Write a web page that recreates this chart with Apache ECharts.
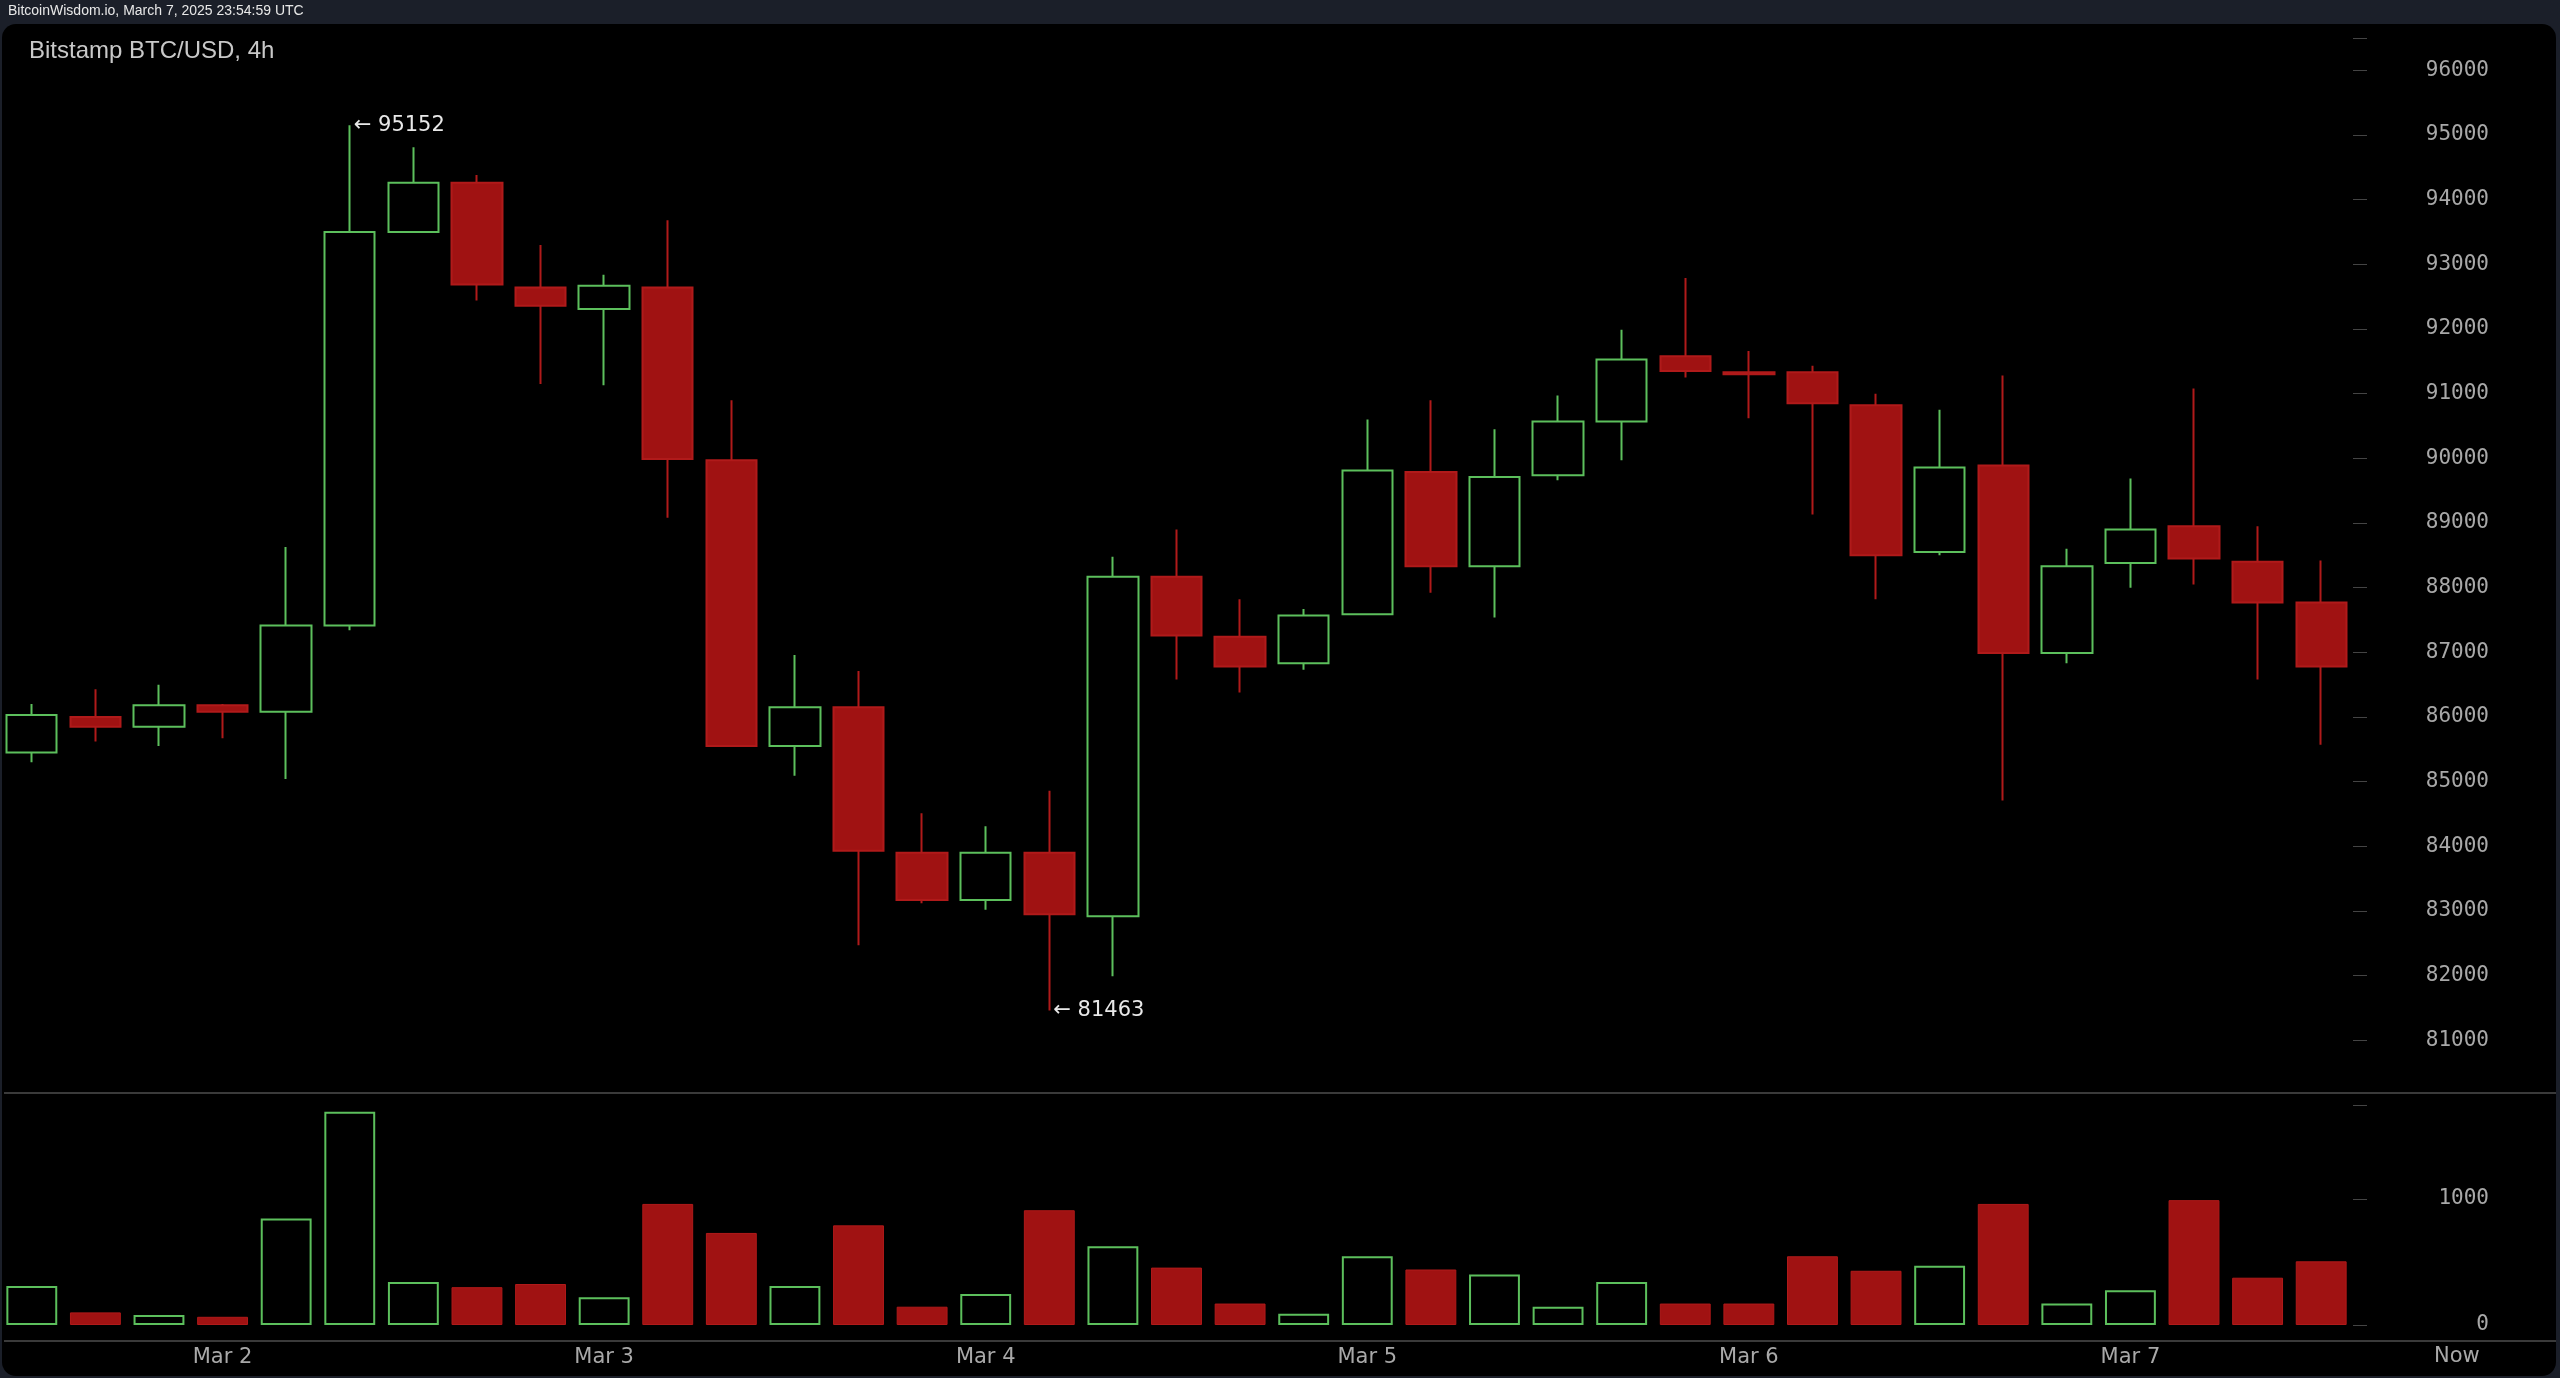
<!DOCTYPE html>
<html><head><meta charset="utf-8">
<script src="https://cdn.jsdelivr.net/npm/echarts@6/dist/echarts.min.js"></script>
<style>html,body{margin:0;padding:0;background:#1b1f29;}#c{width:2560px;height:1378px;}</style>
</head><body><div id="c"></div>
<script>
const times = [];
const days = ['Mar 1','Mar 2','Mar 3','Mar 4','Mar 5','Mar 6','Mar 7'];
for (let i = 0; i < 37; i++) { const k = i + 3; times.push(days[Math.floor(k/6)] + ' ' + String((k%6)*4).padStart(2,'0') + ':00'); }
// [open, close, low, high]
const open  = [85450,86000,85850,86180,86080,87415,93500,94260,92640,92310,92640,89970,85550,86150,83900,83170,83900,82920,88170,87240,86830,87590,89790,88330,89740,90570,91580,91330,91330,90820,88550,89890,86990,88380,88950,88400,87770];
const close = [86030,85850,86180,86080,87415,93500,94260,92690,92360,92670,89990,85550,86150,83930,83170,83900,82950,88170,87260,86780,87570,89810,88330,89710,90570,91530,91350,91300,90850,88500,89860,86990,88330,88900,88450,87770,86780];
const high  = [86200,86430,86500,86200,88630,95152,94810,94380,93300,92840,93680,90900,86960,86710,84510,84310,84860,88480,88900,87820,87670,90600,90900,90450,90970,91990,92790,91660,91430,91000,90750,91280,88600,89690,91080,88950,88420];
const low   = [85300,85620,85550,85670,85040,87340,93500,92440,91150,91130,89080,85550,85090,82470,83120,83020,81463,81990,86580,86380,86730,87590,87920,87540,89660,89970,91250,90620,89130,87820,88500,84710,86830,88000,88050,86580,85570];
const volume = [310,100,80,65,845,1690,340,300,325,220,960,730,310,790,145,245,910,625,455,170,90,545,440,400,145,340,170,170,545,430,470,960,170,275,990,375,505];
const priceTicks = [81000,96000,1000];
const volumeTicks = [0,1000];
const GREEN = '#5cbf5c', RED = '#a01212';

const kData = open.map((o,i)=>[o, close[i], low[i], high[i]]);
const vData = volume.map((v,i)=>({value:v, itemStyle: close[i] >= open[i]
  ? {color:'#000', borderColor:GREEN, borderWidth:2}
  : {color:RED, borderColor:'#b01a1a', borderWidth:1}}));

const chart = echarts.init(document.getElementById('c'));
const monoLabel = {color:'#a8a8a8', fontFamily:'DejaVu Sans Mono', fontSize:21};
const xLab = {
  show:true, color:'#a8a8a8', fontFamily:'DejaVu Sans', fontSize:21, margin:22,
  interval:(i)=> (i+3)%6===0,
  formatter:(v)=>v.split(' ').slice(0,2).join(' ')
};
chart.setOption({
  backgroundColor:'#1b1f29',
  animation:false,
  graphic:[
    {type:'rect', shape:{x:2, y:24, width:2554, height:1352, r:14}, style:{fill:'#000'}},
    {type:'text', left:8, top:4, style:{text:'BitcoinWisdom.io, March 7, 2025 23:54:59 UTC', fill:'#e8e8e8', font:'14px Liberation Sans Narrow, Liberation Sans'}},
    {type:'text', left:29, top:39, style:{text:'Bitstamp BTC/USD, 4h', fill:'#c8c8c8', font:'24px Liberation Sans'}},
    {type:'line', shape:{x1:4, y1:1093, x2:2556, y2:1093}, style:{stroke:'#3a3a3a', lineWidth:2}},
    {type:'line', shape:{x1:4, y1:1341, x2:2556, y2:1341}, style:{stroke:'#3a3a3a', lineWidth:2}},
    {type:'text', left:2434, top:1346, style:{text:'Now', fill:'#a8a8a8', font:'21px DejaVu Sans'}}
  ],
  grid:[
    {left:-7, top:38, width:2360, height:1067},
    {left:-7, top:1098, width:2360, height:227}
  ],
  xAxis:[
    {type:'category', data:times, gridIndex:0, boundaryGap:true, axisLine:{show:false}, axisTick:{show:false}, axisLabel:{show:false}, splitLine:{show:false}},
    {type:'category', data:times, gridIndex:1, boundaryGap:true, axisLine:{show:false}, axisTick:{show:false}, axisLabel:xLab, splitLine:{show:false}}
  ],
  yAxis:[
    {type:'value', gridIndex:0, position:'right', min:80000, max:96500, interval:priceTicks[2],
     axisLine:{show:false}, axisTick:{show:true, length:14, lineStyle:{color:'#444'}}, splitLine:{show:false},
     axisLabel:Object.assign({}, monoLabel, {align:'right', margin:136,
       formatter:(v)=> (v>=priceTicks[0] && v<=priceTicks[1]) ? String(v) : ''})},
    {type:'value', gridIndex:1, position:'right', min:0, max:1800, interval:1000,
     axisLine:{show:false}, axisTick:{show:true, length:14, lineStyle:{color:'#444'}}, splitLine:{show:false},
     axisLabel:Object.assign({}, monoLabel, {align:'right', margin:136, showMaxLabel:false,
       formatter:(v)=> volumeTicks.indexOf(v) >= 0 ? String(v) : ''})}
  ],
  series:[
    {type:'candlestick', xAxisIndex:0, yAxisIndex:0, data:kData, barWidth:'80%',
     itemStyle:{color:'#000', color0:RED, borderColor:GREEN, borderColor0:'#b01a1a', borderWidth:2},
     markPoint:{symbol:'circle', symbolSize:0, silent:true,
       label:{show:true, position:'right', distance:4, color:'#e8e8e8', fontSize:21, fontFamily:'DejaVu Sans',
         formatter:(p)=>'\u2190 ' + p.value},
       data:[{coord:[5, high[5]], value:high[5]}, {coord:[16, low[16]], value:low[16]}]}
    },
    {type:'bar', xAxisIndex:1, yAxisIndex:1, data:vData, barWidth:'80%'}
  ]
});
</script></body></html>
